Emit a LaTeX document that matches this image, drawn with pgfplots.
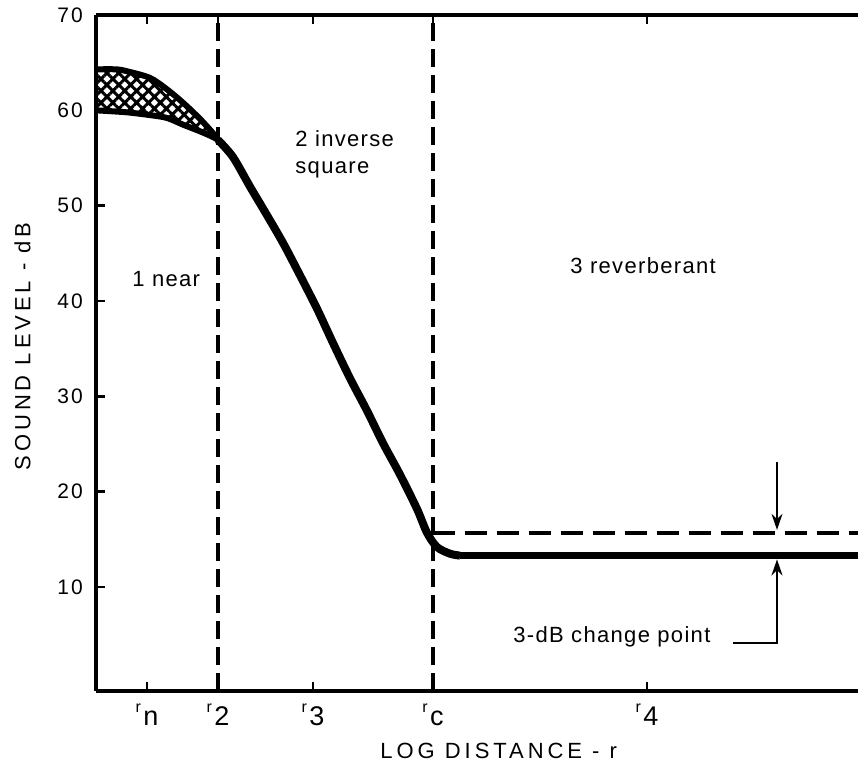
\documentclass[border=0pt]{standalone}
\usepackage{pgfplots}
\pgfplotsset{compat=1.18}
\usepgfplotslibrary{fillbetween}
\usetikzlibrary{patterns.meta,arrows.meta}
\usepackage{fontspec}
\setmainfont{Liberation Sans}
\newfontfamily\capsfont{Liberation Sans}[LetterSpace=18]
\newfontfamily\txtfont{Liberation Sans}[LetterSpace=6]
\newfontfamily\numfont{Liberation Sans}[LetterSpace=10]
\newcommand\rlab[1]{\raisebox{6.5pt}{\fontsize{8}{8}\selectfont r}\hspace{1.2pt}{\fontsize{13.5}{15}\selectfont #1}}
\begin{document}
\begin{tikzpicture}
\begin{axis}[
  name=ax, at={(0,0)}, anchor=south west, scale only axis,
  width=381pt, height=338pt,
  xmin=0, xmax=762, ymin=-0.9, ymax=70,
  axis x line*=box, axis y line*=left,
  axis line style={line width=2pt},
  xtick={51,122,217,337,551},
  xticklabels={\rlab{n},\rlab{2},\rlab{3},\rlab{c},\rlab{4}},
  xticklabel style={font=\fontsize{10}{12}\selectfont, yshift=-3pt},
  ytick={10,20,30,40,50,60,70},
  yticklabel style={font=\numfont\fontsize{10.5}{12}\selectfont, xshift=-3pt},
  /pgf/number format/assume math mode=true,
  tick style={line width=1.3pt, black},
  major tick length=4.5pt,
  tick align=inside,
  xlabel={LOG DISTANCE - r},
  xlabel style={at={(axis description cs:0.3727,-0.088)}, anchor=west, inner sep=0pt, font=\capsfont\fontsize{11}{12}\selectfont},
  ylabel={SOUND LEVEL - dB},
  ylabel style={at={(axis description cs:-0.0965,0.5097)}, anchor=center, rotate=0, inner sep=0pt, font=\capsfont\fontsize{11}{12}\selectfont},
  clip=true,
]
% near-field band
\addplot[name path=up, line width=3pt, smooth] coordinates {
  (0,64.3) (20,64.3) (31,64.1) (54,63.4) (71,62.2) (87,60.8) (104,59.1) (117,57.6) (122,56.9)};
\addplot[name path=low, line width=3pt, smooth] coordinates {
  (0,60.0) (30,59.8) (54,59.5) (71,59.2) (87,58.5) (104,57.8) (117,57.2) (122,56.9)};
\addplot[pattern={Hatch[angle=45,distance=4.2pt,line width=1.5pt]}, draw=none] fill between[of=up and low];
% main curve
\addplot[line width=4pt, smooth, tension=0.5] coordinates {
  (122,56.9) (137,55.1) (154,52.0) (171,49.0) (187,46.1) (204,42.7) (221,39.2)
  (237,35.6) (254,31.9) (271,28.5) (287,25.1) (304,21.8) (321,18.2) (331,15.7)
  (341,14.2) (354,13.5) (364,13.3)};
\addplot[line width=3.8pt] coordinates {(364,13.3) (762,13.3)};
% dashed boundaries
\addplot[line width=1.8pt, dash pattern=on 9pt off 4pt] coordinates {(122,-0.9) (122,70)};
\addplot[line width=1.8pt, dash pattern=on 9pt off 4pt] coordinates {(337,-0.9) (337,70)};
\addplot[line width=1.8pt, dash pattern=on 11pt off 5pt] coordinates {(337,15.7) (762,15.7)};
% annotations
\draw[line width=1pt, -{Stealth[length=8pt,width=5.5pt]}] (axis cs:681,23.1) -- (axis cs:681,16.0);
\draw[line width=1pt, -{Stealth[length=8pt,width=5.5pt]}] (axis cs:637,4.1) -- (axis cs:681,4.1) -- (axis cs:681,12.9);
\node[anchor=base west, inner sep=0pt, font=\txtfont\fontsize{11}{12}\selectfont] at (axis cs:36,41.5) {1 near};
\node[anchor=base west, inner sep=0pt, font=\txtfont\fontsize{11}{12}\selectfont] at (axis cs:199,56.2) {2 inverse};
\node[anchor=base west, inner sep=0pt, font=\txtfont\fontsize{11}{12}\selectfont] at (axis cs:199,53.4) {square};
\node[anchor=base west, inner sep=0pt, font=\txtfont\fontsize{11}{12}\selectfont] at (axis cs:474,42.9) {3 reverberant};
\node[anchor=base west, inner sep=0pt, font=\txtfont\fontsize{11}{12}\selectfont] at (axis cs:417,4.2) {3-dB change point};
\end{axis}
\pgfresetboundingbox
\path[use as bounding box] (-48pt,-35.5pt) rectangle (381pt,345.5pt);
\end{tikzpicture}
\end{document}
